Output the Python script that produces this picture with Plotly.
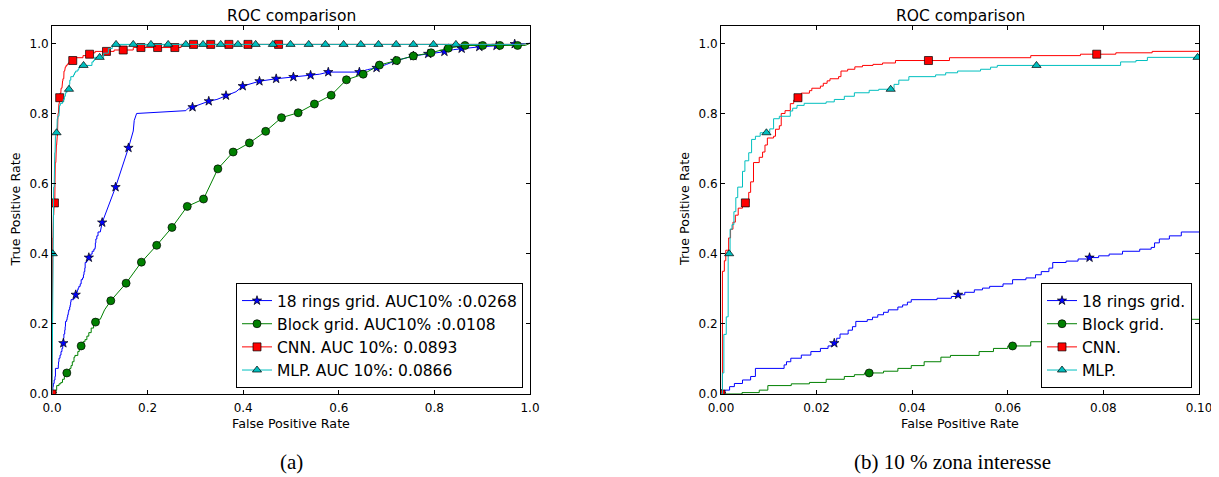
import plotly.graph_objects as go

# ---------------- data ----------------
# CNN (red)
cnn_fpr = [0, 0.0003, 0.0003, 0.0007, 0.0007, 0.0010, 0.0010, 0.0016, 0.0016, 0.0020, 0.0020, 0.0025, 0.0025,
           0.0030, 0.0030, 0.0036, 0.0036, 0.0045, 0.0045, 0.0051, 0.0058, 0.0058, 0.0062, 0.0062, 0.0068, 0.0068,
           0.0080, 0.0080, 0.0087, 0.0087, 0.0092, 0.0092, 0.0097, 0.0097, 0.0110, 0.0110, 0.0114, 0.0114, 0.0122,
           0.0122, 0.0126, 0.0126, 0.0134, 0.0134, 0.0145, 0.0145, 0.0152, 0.0152, 0.0158, 0.0158, 0.0161, 0.0168,
           0.0168, 0.0185, 0.0185, 0.0190, 0.0190, 0.0208, 0.0208, 0.0214, 0.0214, 0.0222, 0.0222, 0.0228, 0.0228,
           0.0246, 0.0246, 0.0251, 0.0251, 0.0265, 0.0265, 0.0280, 0.0280, 0.0296, 0.0296, 0.0318, 0.0318, 0.0338,
           0.0338, 0.0365, 0.0365, 0.0434, 0.0478, 0.0478, 0.0648, 0.0648, 0.0752, 0.0752, 0.0786, 0.0826, 0.0826,
           0.0902, 0.0902, 0.114, 0.130, 0.130, 0.149, 0.170, 0.170, 0.186, 0.221, 0.257, 0.270, 0.270, 0.296,
           0.332, 0.370, 0.410, 0.474, 0.98, 1.0]
cnn_tpr = [0, 0, 0.35, 0.35, 0.38, 0.38, 0.41, 0.41, 0.445, 0.445, 0.47, 0.47, 0.49,
           0.49, 0.51, 0.51, 0.53, 0.53, 0.545, 0.545, 0.545, 0.575, 0.575, 0.605, 0.605, 0.66,
           0.66, 0.675, 0.675, 0.69, 0.69, 0.71, 0.71, 0.73, 0.73, 0.735, 0.735, 0.755, 0.755,
           0.765, 0.765, 0.80, 0.80, 0.808, 0.808, 0.828, 0.828, 0.838, 0.838, 0.845, 0.845, 0.845,
           0.858, 0.858, 0.865, 0.865, 0.872, 0.872, 0.878, 0.878, 0.886, 0.886, 0.893, 0.893, 0.899,
           0.899, 0.905, 0.905, 0.921, 0.921, 0.926, 0.926, 0.933, 0.933, 0.937, 0.937, 0.940, 0.940,
           0.944, 0.944, 0.951, 0.951, 0.951, 0.959, 0.959, 0.965, 0.965, 0.969, 0.969, 0.969, 0.973,
           0.973, 0.977, 0.977, 0.977, 0.981, 0.981, 0.981, 0.988, 0.988, 0.988, 0.988, 0.988, 0.997, 0.997,
           0.997, 0.997, 0.997, 0.997, 0.997, 1.0]
cnn_mark_fpr = [0, 0.0051, 0.0161, 0.0434, 0.0786, 0.114, 0.149, 0.186, 0.221, 0.257, 0.296, 0.332, 0.370, 0.410, 0.474]
cnn_mark_tpr = [0, 0.545, 0.845, 0.951, 0.969, 0.977, 0.981, 0.988, 0.988, 0.988, 0.997, 0.997, 0.997, 0.997, 0.997]

# MLP (cyan)
mlp_fpr = [0, 0.0003, 0.0003, 0.0006, 0.0006, 0.0011, 0.0011, 0.0015, 0.0015, 0.0017, 0.0019, 0.0019, 0.0023,
           0.0023, 0.0027, 0.0027, 0.0031, 0.0031, 0.0035, 0.0035, 0.0045, 0.0045, 0.0050, 0.0050, 0.0058, 0.0058,
           0.0064, 0.0064, 0.0072, 0.0072, 0.0082, 0.0082, 0.0095, 0.0102, 0.0102, 0.0110, 0.0110, 0.0122, 0.0122,
           0.0145, 0.0145, 0.0150, 0.0150, 0.0159, 0.0159, 0.0174, 0.0174, 0.0220, 0.0220, 0.0237, 0.0237, 0.0258,
           0.0258, 0.0279, 0.0279, 0.0310, 0.0310, 0.0330, 0.0330, 0.0355, 0.0362, 0.0362, 0.0372, 0.0372, 0.0393,
           0.0393, 0.0449, 0.0449, 0.0470, 0.0470, 0.0495, 0.0495, 0.0543, 0.0543, 0.0564, 0.0564, 0.0578, 0.0578,
           0.0660, 0.0836, 0.0836, 0.0868, 0.0868, 0.0892, 0.0892, 0.0997, 0.108, 0.108, 0.118, 0.118, 0.126, 0.126,
           0.134, 0.170, 0.207, 0.243, 0.280, 0.316, 0.353, 0.389, 0.426, 0.462, 0.499, 0.537, 0.572, 0.610,
           0.646, 0.683, 0.720, 0.756, 0.798, 0.845, 0.98, 1.0]
mlp_tpr = [0, 0, 0.06, 0.06, 0.17, 0.17, 0.22, 0.22, 0.40, 0.40, 0.40, 0.47, 0.47,
           0.483, 0.483, 0.52, 0.52, 0.56, 0.56, 0.59, 0.59, 0.635, 0.635, 0.665, 0.665, 0.688,
           0.688, 0.726, 0.726, 0.735, 0.735, 0.745, 0.745, 0.745, 0.756, 0.756, 0.785, 0.785, 0.792,
           0.792, 0.807, 0.807, 0.815, 0.815, 0.823, 0.823, 0.829, 0.829, 0.833, 0.833, 0.840, 0.840,
           0.849, 0.849, 0.859, 0.859, 0.866, 0.866, 0.869, 0.869, 0.869, 0.883, 0.883, 0.895, 0.895,
           0.905, 0.905, 0.910, 0.910, 0.916, 0.916, 0.921, 0.921, 0.926, 0.926, 0.932, 0.932, 0.937,
           0.937, 0.937, 0.947, 0.947, 0.951, 0.951, 0.960, 0.960, 0.960, 0.972, 0.972, 0.985, 0.985, 0.995,
           0.997, 0.997, 0.997, 0.997, 0.997, 0.997, 0.997, 0.997, 0.997, 0.997, 0.997, 0.997, 0.997, 0.997,
           0.997, 0.997, 0.997, 0.997, 0.997, 0.997, 0.997, 1.0]
mlp_mark_fpr = [0.0017, 0.0095, 0.0355, 0.0660, 0.0997, 0.134, 0.170, 0.207, 0.243, 0.280, 0.316, 0.353, 0.389,
                0.426, 0.462, 0.499, 0.537, 0.572, 0.610, 0.646, 0.683, 0.720, 0.756, 0.798, 0.845]
mlp_mark_tpr = [0.40, 0.745, 0.869, 0.937, 0.960, 0.997, 0.997, 0.997, 0.997, 0.997, 0.997, 0.997, 0.997,
                0.997, 0.997, 0.997, 0.997, 0.997, 0.997, 0.997, 0.997, 0.997, 0.997, 0.997, 0.997]

# 18 rings grid (blue)
rings_fpr = [0, 0.0008, 0.0008, 0.0018, 0.0018, 0.0028, 0.0028, 0.0045, 0.0045, 0.0062, 0.0062, 0.0072, 0.0072,
             0.0132, 0.0132, 0.0137, 0.0137, 0.0146, 0.0146, 0.0168, 0.0168, 0.0188, 0.0188, 0.0208, 0.0208, 0.0224,
             0.0224, 0.0234, 0.0234, 0.0237, 0.0242, 0.0242, 0.0249, 0.0249, 0.0266, 0.0266, 0.0275, 0.0275, 0.0282,
             0.0282, 0.0306, 0.0306, 0.0317, 0.0317, 0.0328, 0.0328, 0.0340, 0.0340, 0.0350, 0.0350, 0.0370, 0.0370,
             0.0380, 0.0380, 0.0390, 0.0390, 0.0398, 0.0398, 0.0452, 0.0452, 0.0482, 0.0482, 0.0494, 0.0494, 0.0496,
             0.0510, 0.0510, 0.0530, 0.0530, 0.0547, 0.0547, 0.0562, 0.0562, 0.0590, 0.0590, 0.0610, 0.0610, 0.0638,
             0.0638, 0.0658, 0.0658, 0.0670, 0.0670, 0.0686, 0.0686, 0.0694, 0.0694, 0.0722, 0.0722, 0.0747, 0.0747,
             0.0769, 0.0769, 0.0771, 0.0790, 0.0790, 0.0812, 0.0812, 0.0840, 0.0840, 0.0876, 0.0876, 0.0900, 0.0900,
             0.0907, 0.0907, 0.0917, 0.0917, 0.0938, 0.0938, 0.0963, 0.0963, 0.1010, 0.105, 0.133, 0.160, 0.170,
             0.172, 0.177, 0.280, 0.285, 0.294, 0.310, 0.328, 0.345, 0.364, 0.385, 0.399, 0.415, 0.434, 0.469,
             0.505, 0.541, 0.560, 0.578, 0.643, 0.660, 0.679, 0.700, 0.718, 0.740, 0.756, 0.787, 0.821, 0.840,
             0.857, 0.894, 0.930, 0.968, 1.0]
rings_tpr = [0, 0, 0.011, 0.011, 0.021, 0.021, 0.030, 0.030, 0.040, 0.040, 0.050, 0.050, 0.073,
             0.073, 0.083, 0.083, 0.092, 0.092, 0.102, 0.102, 0.111, 0.111, 0.121, 0.121, 0.130, 0.130,
             0.137, 0.137, 0.145, 0.145, 0.145, 0.159, 0.159, 0.171, 0.171, 0.182, 0.182, 0.192, 0.192,
             0.207, 0.207, 0.212, 0.212, 0.219, 0.219, 0.226, 0.226, 0.233, 0.233, 0.240, 0.240, 0.248,
             0.248, 0.254, 0.254, 0.262, 0.262, 0.269, 0.269, 0.273, 0.273, 0.278, 0.278, 0.283, 0.283,
             0.283, 0.290, 0.290, 0.297, 0.297, 0.302, 0.302, 0.307, 0.307, 0.314, 0.314, 0.326, 0.326,
             0.331, 0.331, 0.340, 0.340, 0.349, 0.349, 0.359, 0.359, 0.375, 0.375, 0.379, 0.379, 0.385,
             0.385, 0.389, 0.389, 0.389, 0.394, 0.394, 0.399, 0.399, 0.407, 0.407, 0.413, 0.413, 0.418,
             0.418, 0.431, 0.431, 0.442, 0.442, 0.451, 0.451, 0.462, 0.462, 0.489, 0.590, 0.702, 0.750,
             0.780, 0.800, 0.808, 0.815, 0.818, 0.825, 0.835, 0.840, 0.851, 0.862, 0.878, 0.885, 0.892, 0.899,
             0.904, 0.909, 0.912, 0.918, 0.918, 0.925, 0.930, 0.940, 0.950, 0.958, 0.964, 0.970, 0.976, 0.982,
             0.985, 0.990, 0.993, 0.998, 1.0]
rings_mark_fpr = [0, 0.0237, 0.0496, 0.0771, 0.105, 0.133, 0.160, 0.294, 0.328, 0.364, 0.399, 0.434, 0.469,
                  0.505, 0.541, 0.578, 0.643, 0.679, 0.718, 0.756, 0.787, 0.821, 0.857, 0.894, 0.930, 0.968]
rings_mark_tpr = [0, 0.145, 0.283, 0.389, 0.489, 0.590, 0.702, 0.818, 0.835, 0.851, 0.878, 0.892, 0.899,
                  0.904, 0.909, 0.918, 0.918, 0.930, 0.950, 0.964, 0.970, 0.976, 0.985, 0.990, 0.993, 0.998]

# Block grid (green)
block_fpr = [0, 0.0044, 0.0044, 0.0080, 0.0080, 0.0098, 0.0098, 0.0147, 0.0147, 0.0185, 0.0185, 0.0220, 0.0220,
             0.0258, 0.0258, 0.0279, 0.0279, 0.0300, 0.0300, 0.0310, 0.0340, 0.0340, 0.0370, 0.0370, 0.0398, 0.0398,
             0.0425, 0.0425, 0.0460, 0.0460, 0.0480, 0.0480, 0.0540, 0.0540, 0.0570, 0.0570, 0.0600, 0.0600, 0.0610,
             0.0648, 0.0648, 0.0690, 0.0690, 0.0730, 0.0730, 0.0770, 0.0770, 0.0820, 0.0820, 0.0870, 0.0870, 0.0900,
             0.0900, 0.0910, 0.0960, 0.0960, 0.1010, 0.110, 0.123, 0.155, 0.187, 0.219, 0.251, 0.283, 0.317, 0.347,
             0.379, 0.413, 0.447, 0.480, 0.515, 0.549, 0.584, 0.616, 0.651, 0.685, 0.721, 0.756, 0.793, 0.829,
             0.864, 0.901, 0.937, 0.974, 0.99, 1.0]
block_tpr = [0, 0, 0.004, 0.004, 0.011, 0.011, 0.024, 0.024, 0.029, 0.029, 0.033, 0.033, 0.042,
             0.042, 0.050, 0.050, 0.055, 0.055, 0.060, 0.060, 0.060, 0.065, 0.065, 0.073, 0.073, 0.081,
             0.081, 0.092, 0.092, 0.105, 0.105, 0.110, 0.110, 0.121, 0.121, 0.130, 0.130, 0.137, 0.137,
             0.137, 0.149, 0.149, 0.155, 0.155, 0.165, 0.165, 0.175, 0.175, 0.188, 0.188, 0.198, 0.198,
             0.205, 0.205, 0.205, 0.213, 0.213, 0.240, 0.266, 0.316, 0.376, 0.424, 0.475, 0.535, 0.556, 0.642,
             0.690, 0.716, 0.749, 0.788, 0.802, 0.827, 0.852, 0.896, 0.912, 0.938, 0.951, 0.964, 0.973, 0.986,
             0.994, 0.994, 0.994, 0.994, 0.994, 1.0]
block_mark_fpr = [0.0310, 0.0610, 0.0910, 0.123, 0.155, 0.187, 0.219, 0.251, 0.283, 0.317, 0.347, 0.379, 0.413,
                  0.447, 0.480, 0.515, 0.549, 0.584, 0.616, 0.651, 0.685, 0.721, 0.756, 0.793, 0.829, 0.864,
                  0.901, 0.937, 0.974]
block_mark_tpr = [0.060, 0.137, 0.205, 0.266, 0.316, 0.376, 0.424, 0.475, 0.535, 0.556, 0.642, 0.690, 0.716,
                  0.749, 0.788, 0.802, 0.827, 0.852, 0.896, 0.912, 0.938, 0.951, 0.964, 0.973, 0.986, 0.994,
                  0.994, 0.994, 0.994]

legend_full = ["18 rings grid. AUC10% :0.0268", "Block grid. AUC10% :0.0108",
               "CNN. AUC 10%: 0.0893", "MLP. AUC 10%: 0.0866"]
legend_short = ["18 rings grid.", "Block grid.", "CNN.", "MLP."]
titles = ["ROC comparison", "ROC comparison"]
captions = ["(a)", "(b) 10 % zona interesse"]
x_label = "False Positive Rate"
y_label = "True Positive Rate"

# ---------------- styling ----------------
# The page body has an 8px margin, so the figure is drawn 8px smaller and
# every screen position is shifted by that offset.
SW, SH = 1219, 477
OFF = 8
W, H = SW - OFF, SH - OFF


def px(x):
    return (x - OFF) / W


def py(y):
    return 1 - (y - OFF) / H


FONT = "DejaVu Sans"
series = [
    (rings_fpr, rings_tpr, rings_mark_fpr, rings_mark_tpr, "#0000ff", "star", 7),
    (block_fpr, block_tpr, block_mark_fpr, block_mark_tpr, "#008000", "circle", 8),
    (cnn_fpr, cnn_tpr, cnn_mark_fpr, cnn_mark_tpr, "#ff0000", "square", 8),
    (mlp_fpr, mlp_tpr, mlp_mark_fpr, mlp_mark_tpr, "#00bfbf", "triangle-up", 8),
]

fig = go.Figure()
panels = [("x", "y", "legend", legend_full), ("x2", "y2", "legend2", legend_short)]
for xa, ya, lg, names in panels:
    for (fx, fy, mx, my, col, sym, ms), name in zip(series, names):
        fig.add_trace(go.Scatter(x=fx, y=fy, mode="lines", xaxis=xa, yaxis=ya,
                                 line=dict(color=col, width=1), showlegend=False, hoverinfo="skip"))
        fig.add_trace(go.Scatter(x=mx, y=my, mode="markers", xaxis=xa, yaxis=ya,
                                 marker=dict(symbol=sym, size=ms, color=col,
                                             line=dict(color="black", width=0.7)),
                                 showlegend=False, hoverinfo="skip"))
        fig.add_trace(go.Scatter(x=[None], y=[None], mode="lines+markers", xaxis=xa, yaxis=ya,
                                 name=name, legend=lg,
                                 line=dict(color=col, width=1),
                                 marker=dict(symbol=sym, size=ms, color=col,
                                             line=dict(color="black", width=0.7))))

ydom = [py(394), py(25.8)]
xdom1 = [px(52), px(530)]
xdom2 = [px(721), px(1199)]

axis_common = dict(showline=True, linecolor="black", linewidth=1, mirror="allticks",
                   ticks="inside", ticklen=4, tickwidth=1, tickcolor="black",
                   showgrid=False, zeroline=False, automargin=False,
                   tickfont=dict(family=FONT, size=12, color="black"))

fig.update_layout(
    width=W, height=H, margin=dict(l=0, r=0, t=0, b=0, autoexpand=False),
    paper_bgcolor="white", plot_bgcolor="white",
    xaxis=dict(domain=xdom1, range=[0, 1], dtick=0.2, tickformat=".1f", anchor="y",
               ticklabelstandoff=3, **axis_common),
    yaxis=dict(domain=ydom, range=[0, 1.05], tick0=0, dtick=0.2, tickformat=".1f", anchor="x", **axis_common),
    xaxis2=dict(domain=xdom2, range=[0, 0.1], dtick=0.02, tickformat=".2f", anchor="y2",
                ticklabelstandoff=3, **axis_common),
    yaxis2=dict(domain=ydom, range=[0, 1.05], tick0=0, dtick=0.2, tickformat=".1f", anchor="x2", **axis_common),
    legend=dict(x=px(523), y=py(388), xanchor="right", yanchor="bottom",
                bgcolor="white", bordercolor="black", borderwidth=1,
                font=dict(family=FONT, size=15.5, color="black"), tracegroupgap=0),
    legend2=dict(x=px(1192), y=py(388), xanchor="right", yanchor="bottom",
                 bgcolor="white", bordercolor="black", borderwidth=1,
                 font=dict(family=FONT, size=15.5, color="black"), tracegroupgap=0),
)

ann = []
for i, xd in enumerate([xdom1, xdom2]):
    cx = (xd[0] + xd[1]) / 2
    ann.append(dict(text=titles[i], x=cx, y=py(16.5), xref="paper", yref="paper",
                    xanchor="center", yanchor="middle", showarrow=False,
                    font=dict(family=FONT, size=15.5, color="black")))
    ann.append(dict(text=x_label, x=cx, y=py(423), xref="paper", yref="paper",
                    xanchor="center", yanchor="middle", showarrow=False,
                    font=dict(family=FONT, size=12.7, color="black")))
    ann.append(dict(text=captions[i], x=px([291, 952][i]), y=py(462), xref="paper", yref="paper",
                    xanchor="center", yanchor="middle", showarrow=False,
                    font=dict(family="Liberation Serif", size=21, color="black")))
    ann.append(dict(text=y_label, x=px([15, 684.5][i]), y=py(209.5), xref="paper", yref="paper",
                    xanchor="center", yanchor="middle", showarrow=False, textangle=-90,
                    font=dict(family=FONT, size=12.7, color="black")))
fig.update_layout(annotations=ann)

fig.write_html("out.html")
